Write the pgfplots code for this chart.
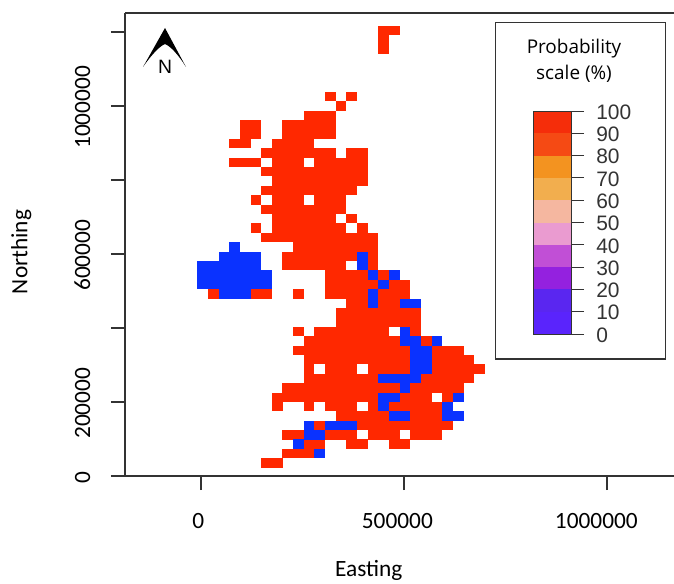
\documentclass[border=0pt]{standalone}
\usepackage{pgfplots}
\pgfplotsset{compat=1.18}
\usepackage{fontspec}
\setmainfont{Carlito}
\newfontfamily\libsans{Liberation Sans}
\newfontfamily\opensans{Open Sans}
\definecolor{mapred}{HTML}{FF2800}
\definecolor{mapblue}{HTML}{0A32FF}
\definecolor{axisgrey}{HTML}{333333}
\definecolor{ba}{HTML}{5A24FC}
\definecolor{bb}{HTML}{5A26F0}
\definecolor{bc}{HTML}{9421DF}
\definecolor{bd}{HTML}{C14FD6}
\definecolor{be}{HTML}{EA9BD0}
\definecolor{bf}{HTML}{F5B7A0}
\definecolor{bg}{HTML}{F2AE4E}
\definecolor{bh}{HTML}{F39320}
\definecolor{bi}{HTML}{F54A14}
\definecolor{bj}{HTML}{F52D0A}
\pgfdeclareplotmark{cell}{\pgfpathrectangle{\pgfpoint{-4.02pt}{-3.55pt}}{\pgfpoint{8.04pt}{7.1pt}}\pgfusepathqfill}
\begin{document}
\begin{tikzpicture}
\path[use as bounding box] (0,0) rectangle (505.5pt,437.25pt);
\begin{axis}[
  at={(93.75pt,80.25pt)}, anchor=south west, scale only axis,
  width=411.75pt, height=347.25pt,
  xmin=-187192, xmax=1165025, ymin=0, ymax=1251351,
  scaled ticks=false,
  axis x line*=bottom, axis y line*=left,
  axis line style={-,draw=axisgrey,line width=1pt},
  tick style={draw=axisgrey,line width=0.8pt},
  tick align=outside,
  major tick length=10.5pt,
  xtick={0,500000,1000000},
  xticklabels={\hspace*{6pt}0,500000,1000000\hspace*{6pt}},
  ytick={0,200000,400000,600000,800000,1000000,1200000},
  yticklabels={0,200000,,600000,,1000000,},
  tick label style={font=\fontsize{17.5}{19}\selectfont},
  xticklabel style={anchor=north,yshift=-14pt,xshift=-5pt},
  yticklabel style={rotate=90,anchor=south,yshift=12pt,xshift=-1pt},
  xlabel={Easting}, ylabel={Northing},
  every axis x label/.style={at={(axis description cs:0.444,-0.205)},anchor=center,font=\fontsize{17.5}{19}\selectfont},
  every axis y label/.style={at={(axis description cs:-0.189,0.484)},rotate=90,anchor=center,font=\fontsize{17.5}{19}\selectfont},
  clip=false,
]
\addplot[only marks,mark=cell,mark options={draw=none,fill=mapred}]
 table[row sep=\\,x expr=4000+26230*\thisrow{c},y expr=35100+25400*\thisrow{r}]{
c r\\
6 0\\7 0\\
8 1\\9 1\\10 1\\
10 2\\11 2\\14 2\\15 2\\18 2\\19 2\\
8 3\\9 3\\12 3\\13 3\\14 3\\16 3\\17 3\\18 3\\20 3\\21 3\\22 3\\
11 4\\15 4\\16 4\\17 4\\18 4\\19 4\\20 4\\21 4\\22 4\\23 4\\
13 5\\14 5\\15 5\\16 5\\17 5\\20 5\\21 5\\22 5\\
7 6\\10 6\\12 6\\13 6\\14 6\\16 6\\18 6\\19 6\\20 6\\21 6\\22 6\\
7 7\\8 7\\9 7\\10 7\\11 7\\12 7\\13 7\\14 7\\15 7\\16 7\\19 7\\20 7\\21 7\\23 7\\
8 8\\9 8\\10 8\\11 8\\12 8\\13 8\\14 8\\15 8\\16 8\\17 8\\18 8\\20 8\\21 8\\22 8\\23 8\\24 8\\
10 9\\11 9\\12 9\\13 9\\14 9\\15 9\\16 9\\21 9\\22 9\\23 9\\24 9\\25 9\\
10 10\\12 10\\13 10\\14 10\\16 10\\17 10\\18 10\\19 10\\22 10\\23 10\\24 10\\25 10\\26 10\\
10 11\\11 11\\12 11\\13 11\\14 11\\15 11\\16 11\\17 11\\18 11\\19 11\\22 11\\23 11\\24 11\\25 11\\
9 12\\10 12\\11 12\\12 12\\13 12\\14 12\\15 12\\16 12\\17 12\\18 12\\19 12\\22 12\\23 12\\24 12\\
10 13\\11 13\\12 13\\13 13\\14 13\\15 13\\16 13\\17 13\\18 13\\21 13\\
9 14\\11 14\\12 14\\13 14\\14 14\\15 14\\16 14\\17 14\\20 14\\
13 15\\14 15\\15 15\\16 15\\17 15\\18 15\\19 15\\20 15\\
13 16\\14 16\\15 16\\16 16\\17 16\\18 16\\19 16\\20 16\\
14 17\\15 17\\17 17\\18 17\\
1 18\\5 18\\6 18\\9 18\\12 18\\13 18\\14 18\\15 18\\17 18\\18 18\\19 18\\
12 19\\13 19\\14 19\\15 19\\16 19\\18 19\\19 19\\
12 20\\13 20\\14 20\\15 20\\17 20\\
8 21\\9 21\\10 21\\11 21\\12 21\\13 21\\16 21\\
8 22\\9 22\\10 22\\11 22\\12 22\\13 22\\14 22\\16 22\\
9 23\\10 23\\11 23\\12 23\\13 23\\14 23\\15 23\\16 23\\
6 24\\7 24\\8 24\\9 24\\10 24\\11 24\\12 24\\13 24\\14 24\\15 24\\16 24\\
5 25\\7 25\\8 25\\9 25\\10 25\\11 25\\12 25\\13 25\\15 25\\
7 26\\8 26\\9 26\\10 26\\11 26\\12 26\\14 26\\
6 27\\7 27\\8 27\\9 27\\10 27\\11 27\\12 27\\13 27\\
5 28\\7 28\\8 28\\9 28\\11 28\\12 28\\13 28\\
6 29\\7 29\\8 29\\9 29\\10 29\\11 29\\12 29\\13 29\\14 29\\
7 30\\8 30\\9 30\\10 30\\11 30\\12 30\\13 30\\14 30\\15 30\\
6 31\\7 31\\8 31\\9 31\\10 31\\11 31\\12 31\\13 31\\14 31\\15 31\\
3 32\\4 32\\5 32\\7 32\\8 32\\9 32\\11 32\\12 32\\13 32\\14 32\\15 32\\
6 33\\7 33\\8 33\\9 33\\10 33\\11 33\\12 33\\14 33\\15 33\\
3 34\\4 34\\7 34\\8 34\\9 34\\10 34\\
4 35\\5 35\\8 35\\9 35\\10 35\\11 35\\12 35\\
4 36\\5 36\\8 36\\9 36\\10 36\\11 36\\12 36\\
10 37\\11 37\\12 37\\
13 38\\
12 39\\14 39\\
17 44\\17 45\\17 46\\18 46\\
};
\addplot[only marks,mark=cell,mark options={draw=none,fill=mapblue}]
 table[row sep=\\,x expr=4000+26230*\thisrow{c},y expr=35100+25400*\thisrow{r}]{
c r\\
11 1\\
9 2\\
10 3\\11 3\\
10 4\\12 4\\13 4\\14 4\\
18 5\\19 5\\23 5\\24 5\\
17 6\\23 6\\
17 7\\18 7\\24 7\\
19 8\\
17 9\\18 9\\19 9\\20 9\\
20 10\\21 10\\
20 11\\21 11\\
20 12\\21 12\\
19 13\\20 13\\22 13\\
19 14\\
16 17\\19 17\\20 17\\
2 18\\3 18\\4 18\\16 18\\
0 19\\1 19\\2 19\\3 19\\4 19\\5 19\\6 19\\17 19\\
0 20\\1 20\\2 20\\3 20\\4 20\\5 20\\6 20\\16 20\\18 20\\
0 21\\1 21\\2 21\\3 21\\4 21\\5 21\\15 21\\
2 22\\3 22\\4 22\\5 22\\15 22\\
3 23\\
};
\end{axis}
\begin{scope}[shift={(0,437.25pt)},x=0.75pt,y=-0.75pt]
\draw[axisgrey,line width=1pt] (125,13) -- (674,13);
% north arrow
\fill[black] (165,28) -- (186,67) .. controls (178,54) and (170,46) .. (165,44) .. controls (160,46) and (152,54) .. (143,67) -- cycle;
\node[font=\libsans\fontsize{14.5}{16}\selectfont,inner sep=0pt] at (165,67) {N};
% legend box
\draw[axisgrey,line width=0.9pt] (495.7,22.7) rectangle (665.7,359);
\node[font=\opensans\fontsize{14.2}{16}\selectfont,inner sep=0pt] at (574,49) {Probability};
\node[font=\opensans\fontsize{14.2}{16}\selectfont,inner sep=0pt] at (574,74) {scale (\%)};
\end{scope}
\begin{axis}[
  at={(399.75pt,186.75pt)}, anchor=south west, scale only axis,
  width=28.5pt, height=167.25pt,
  xmin=0, xmax=1, ymin=0, ymax=100,
  xtick=\empty,
  axis y line*=right, axis x line=none,
  axis line style={-,draw=axisgrey,line width=0.9pt},
  ytick={0,10,20,30,40,50,60,70,80,90,100},
  yticklabels={0,10,20,30,40,50,60,70,80,90,100},
  tick align=outside, major tick length=9.75pt,
  tick style={draw=axisgrey,line width=0.7pt},
  yticklabel style={font=\libsans\fontsize{15.7}{17}\selectfont,anchor=west,inner sep=0pt,xshift=9pt,yshift=-0.75pt,text=black!80},
]
\addplot[fill=ba,draw=none] coordinates {(0,0)(1,0)(1,10)(0,10)} -- cycle;
\addplot[fill=bb,draw=none] coordinates {(0,10)(1,10)(1,20)(0,20)} -- cycle;
\addplot[fill=bc,draw=none] coordinates {(0,20)(1,20)(1,30)(0,30)} -- cycle;
\addplot[fill=bd,draw=none] coordinates {(0,30)(1,30)(1,40)(0,40)} -- cycle;
\addplot[fill=be,draw=none] coordinates {(0,40)(1,40)(1,50)(0,50)} -- cycle;
\addplot[fill=bf,draw=none] coordinates {(0,50)(1,50)(1,60)(0,60)} -- cycle;
\addplot[fill=bg,draw=none] coordinates {(0,60)(1,60)(1,70)(0,70)} -- cycle;
\addplot[fill=bh,draw=none] coordinates {(0,70)(1,70)(1,80)(0,80)} -- cycle;
\addplot[fill=bi,draw=none] coordinates {(0,80)(1,80)(1,90)(0,90)} -- cycle;
\addplot[fill=bj,draw=none] coordinates {(0,90)(1,90)(1,100)(0,100)} -- cycle;
\end{axis}
\begin{scope}[shift={(0,437.25pt)},x=0.75pt,y=-0.75pt]
\draw[axisgrey,line width=0.7pt] (533,111) rectangle (571,334);
\end{scope}
\end{tikzpicture}
\end{document}
